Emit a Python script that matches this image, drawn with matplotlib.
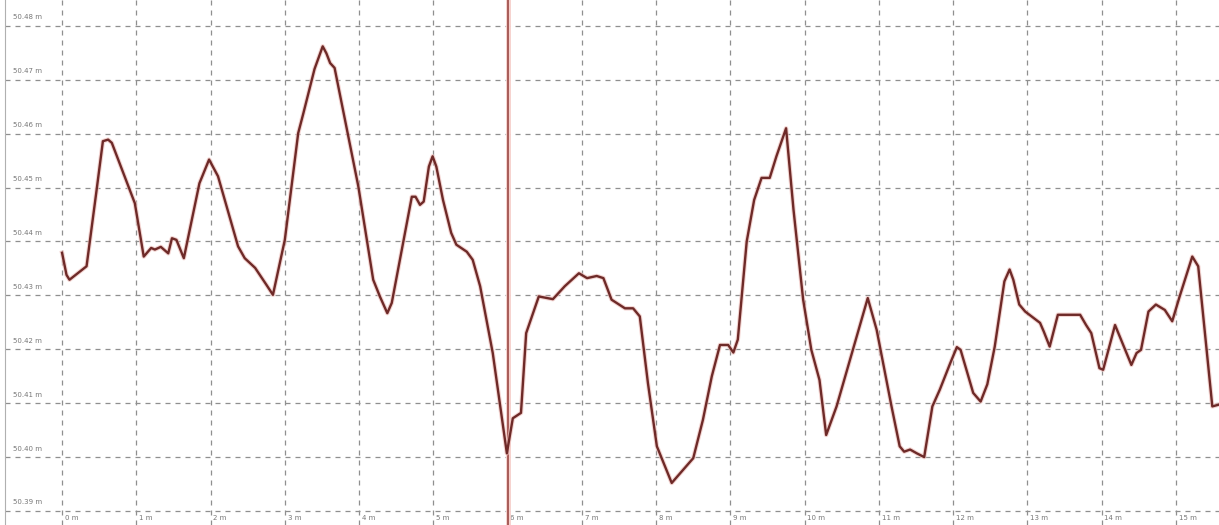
import matplotlib.pyplot as plt

dist = [0.00, 0.06, 0.10, 0.33, 0.46, 0.55, 0.62, 0.67, 0.98, 1.10, 1.20, 1.25, 1.33, 1.43,
        1.48, 1.54, 1.64, 1.85, 1.98, 2.10, 2.37, 2.46, 2.60, 2.75, 2.84, 3.00, 3.18, 3.25,
        3.40, 3.51, 3.56, 3.61, 3.67, 3.99, 4.19, 4.28, 4.38, 4.44, 4.71, 4.76, 4.82, 4.87,
        4.94, 4.99, 5.04, 5.13, 5.24, 5.31, 5.45, 5.53, 5.63, 5.80, 5.99, 6.07, 6.18, 6.25,
        6.32, 6.42, 6.61, 6.77, 6.96, 7.07, 7.20, 7.29, 7.40, 7.58, 7.69, 7.78, 7.89, 8.01,
        8.21, 8.50, 8.63, 8.75, 8.86, 8.97, 9.04, 9.10, 9.22, 9.32, 9.42, 9.53, 9.62, 9.75,
        9.85, 9.98, 10.09, 10.20, 10.29, 10.43, 10.85, 10.97, 11.17, 11.28, 11.34, 11.42,
        11.51, 11.61, 11.72, 11.82, 11.96, 12.05, 12.10, 12.27, 12.37, 12.46, 12.56, 12.69,
        12.76, 12.81, 12.89, 12.97, 13.17, 13.22, 13.30, 13.41, 13.71, 13.79, 13.86, 13.97,
        14.02, 14.18, 14.40, 14.47, 14.53, 14.63, 14.73, 14.85, 14.95, 15.05, 15.22, 15.30,
        15.49, 15.57]
cota = [50.4379, 50.4338, 50.4329, 50.4354, 50.4490, 50.4586, 50.4589, 50.4583, 50.4471,
        50.4372, 50.4388, 50.4385, 50.4390, 50.4378, 50.4406, 50.4403, 50.4369, 50.4508,
        50.4552, 50.4521, 50.4391, 50.4369, 50.4351, 50.4320, 50.4301, 50.4403, 50.4601,
        50.4638, 50.4720, 50.4762, 50.4749, 50.4731, 50.4722, 50.4502, 50.4329, 50.4298,
        50.4267, 50.4286, 50.4483, 50.4483, 50.4468, 50.4474, 50.4539, 50.4558, 50.4539,
        50.4477, 50.4416, 50.4394, 50.4381, 50.4366, 50.4317, 50.4193, 50.4007, 50.4072,
        50.4082, 50.4230, 50.4258, 50.4298, 50.4293, 50.4317, 50.4341, 50.4332, 50.4336,
        50.4332, 50.4292, 50.4276, 50.4276, 50.4261, 50.4137, 50.4020, 50.3952, 50.3998,
        50.4069, 50.4150, 50.4208, 50.4208, 50.4194, 50.4218, 50.4400, 50.4477, 50.4518,
        50.4518, 50.4558, 50.4610, 50.4459, 50.4292, 50.4199, 50.4143, 50.4041, 50.4094,
        50.4295, 50.4236, 50.4094, 50.4020, 50.4010, 50.4014, 50.4007, 50.4000, 50.4094,
        50.4125, 50.4174, 50.4204, 50.4199, 50.4119, 50.4103, 50.4135, 50.4205, 50.4326,
        50.4348, 50.4329, 50.4283, 50.4270, 50.4249, 50.4233, 50.4205, 50.4264, 50.4264,
        50.4245, 50.4230, 50.4165, 50.4162, 50.4245, 50.4171, 50.4193, 50.4199, 50.4270,
        50.4283, 50.4273, 50.4252, 50.4298, 50.4372, 50.4354, 50.4094, 50.4097]

yticks = [50.39, 50.40, 50.41, 50.42, 50.43, 50.44, 50.45, 50.46, 50.47, 50.48]
ytick_labels = ['50.39 m', '50.40 m', '50.41 m', '50.42 m', '50.43 m',
                '50.44 m', '50.45 m', '50.46 m', '50.47 m', '50.48 m']
xticks = list(range(16))
xtick_labels = [f'{i} m' for i in xticks]
cursor = 6

fig = plt.figure(figsize=(12.19, 5.25), dpi=100)
ax = fig.add_axes([0.004, 0, 0.996, 1])
ax.set_xlim(-0.77, 15.58)
ax.set_ylim(50.3874, 50.4848)

for s in ['top', 'right', 'bottom']:
    ax.spines[s].set_visible(False)
ax.spines['left'].set_color('#b0b0b0')
ax.spines['left'].set_linewidth(0.8)

ax.set_xticks(xticks)
ax.set_yticks(yticks)
ax.tick_params(length=0, labelbottom=False, labelleft=False)
ax.grid(True, color='#8f8f8f', linestyle=(0, (4, 4)), linewidth=0.9)

# rotulos dentro da area do grafico
for v, t in zip(yticks, ytick_labels):
    ax.annotate(t, (0, v), xycoords=('axes fraction', 'data'), xytext=(6, 4),
                textcoords='offset points', fontsize=5, color='#777777', va='bottom')
for v, t in zip(xticks, xtick_labels):
    ax.annotate(t, (v, 50.39), xytext=(2, -3), textcoords='offset points',
                fontsize=5, color='#777777', va='top')

ax.axvline(cursor, color='#f6d0cc', linewidth=3.5, zorder=3)
ax.axvline(cursor, color='#9a4844', linewidth=1.2, zorder=4)

ax.plot(dist, cota, color='#eec2be', linewidth=3.2, alpha=0.7, zorder=5,
        solid_joinstyle='round')
ax.plot(dist, cota, color='#6e2a28', linewidth=1.7, zorder=6, solid_joinstyle='round')

fig.savefig('out.png')
